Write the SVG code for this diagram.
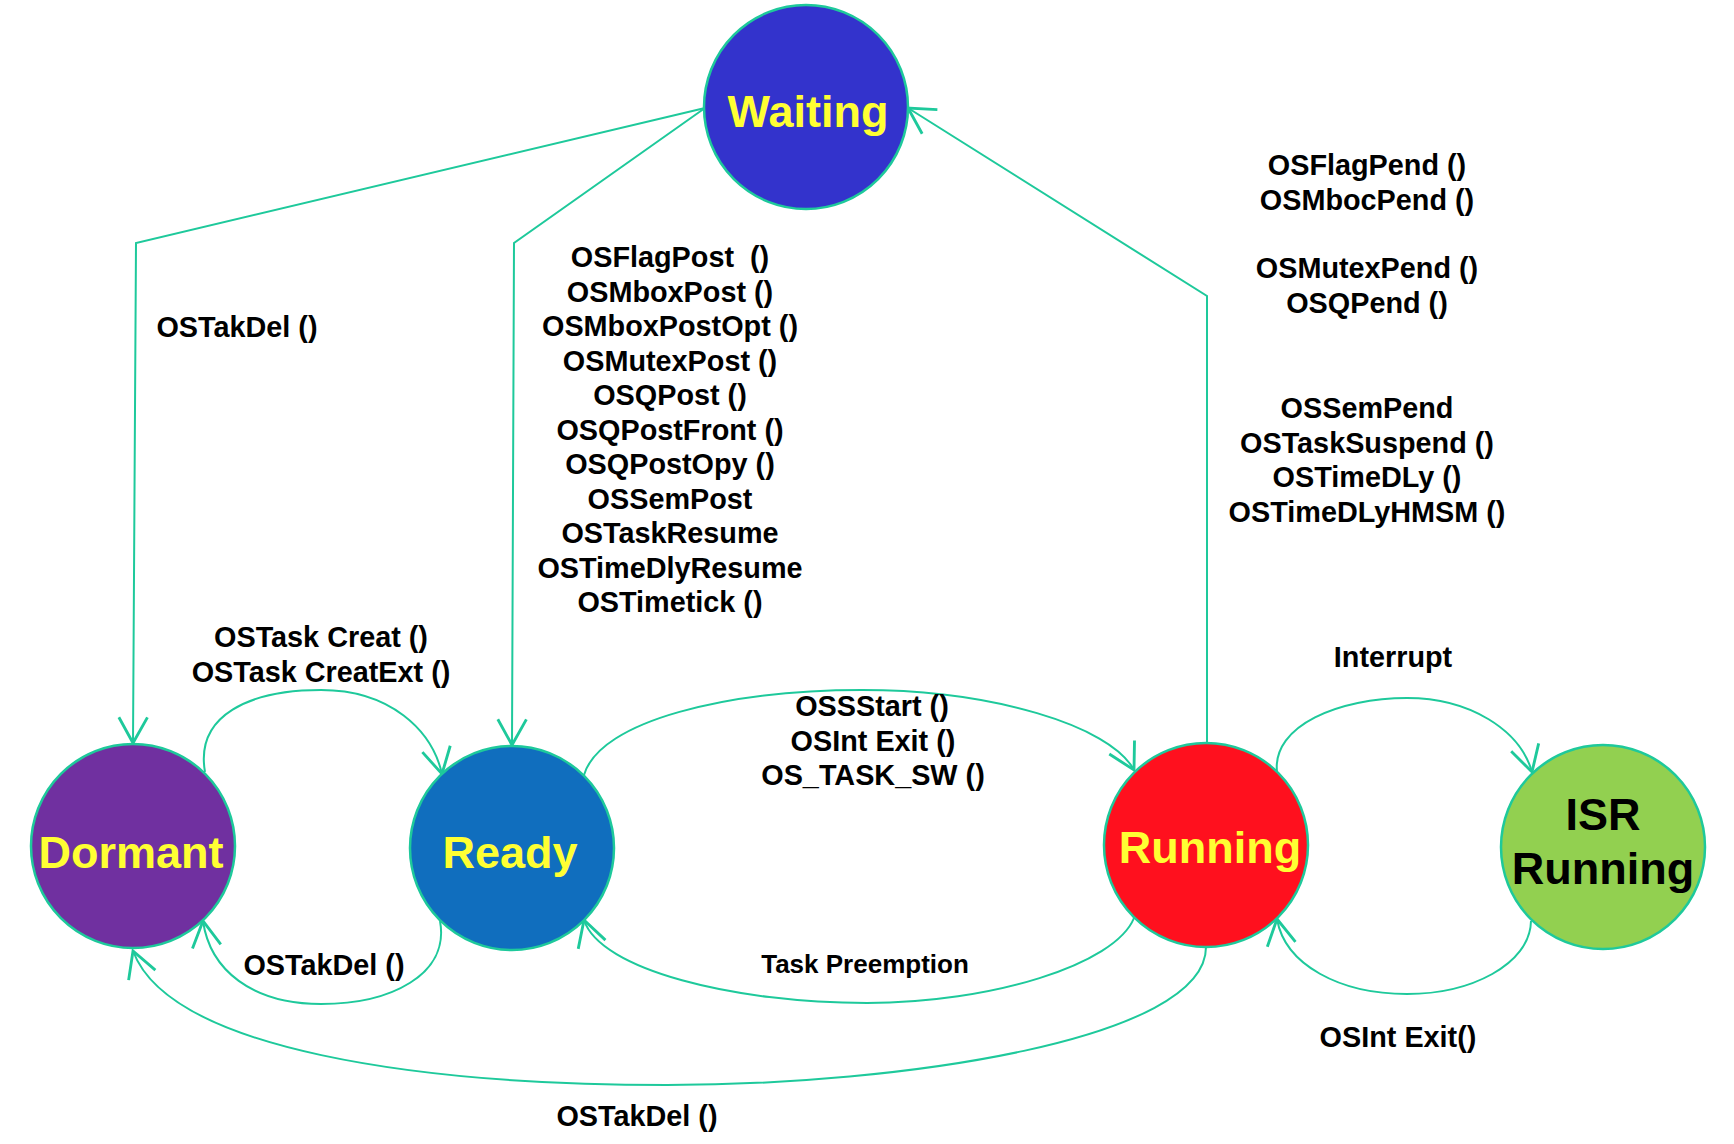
<svg xmlns="http://www.w3.org/2000/svg" width="1734" height="1144" viewBox="0 0 1734 1144">
<style>
.node{stroke:#1ec99b;stroke-width:2.5}
.big{font-family:"Liberation Sans",Arial,sans-serif;font-weight:bold;font-size:45px;text-anchor:middle}
.yel{fill:#ffff33}
.blk{fill:#000000}
.lbl{font-family:"Liberation Sans",Arial,sans-serif;font-weight:bold;font-size:28.8px;text-anchor:middle;fill:#000000}
.conn{fill:none;stroke:#1ec99b;stroke-width:2}
</style>
<defs>
<marker id="arr" markerUnits="userSpaceOnUse" markerWidth="40" markerHeight="40" viewBox="-22 -14 26 28" refX="0" refY="0" orient="auto" overflow="visible">
<path d="M-18,-10 L0,0 L-18,10" fill="none" stroke="#1ec99b" stroke-width="2"/>
</marker>
</defs>
<rect width="1734" height="1144" fill="#ffffff"/>

<g id="connectors" class="conn">
<path id="waiting-dormant" d="M705,108 L136,243 L133,743" marker-end="url(#arr)"/>
<path id="waiting-ready" d="M705,108 L514,243 L512,745" marker-end="url(#arr)"/>
<path id="running-waiting" d="M1207,743 L1207,296 L908,108" marker-end="url(#arr)"/>
<path id="dormant-ready" d="M205,772 C195,715 250,690 321,690 C390,690 432,730 442,774" marker-end="url(#arr)"/>
<path id="ready-dormant" d="M440,921 C450,975 390,1004 321,1004 C252,1004 210,970 203,921" marker-end="url(#arr)"/>
<path id="ready-running" d="M584,775 C600,720 730,690 862,690 C990,690 1110,725 1134,770" marker-end="url(#arr)"/>
<path id="running-ready" d="M1134,918 C1115,965 990,1003 867,1003 C735,1003 600,970 584,920" marker-end="url(#arr)"/>
<path id="running-dormant" d="M1206,947 C1206,1040 900,1085 667,1085 C420,1085 170,1050 133,951" marker-end="url(#arr)"/>
<path id="running-isr" d="M1277,772 C1272,725 1340,698 1407,698 C1470,698 1520,730 1532,772" marker-end="url(#arr)"/>
<path id="isr-running" d="M1531,921 C1530,965 1470,994 1407,994 C1340,994 1285,965 1277,919" marker-end="url(#arr)"/>
</g>

<g id="waiting">
<circle class="node" cx="806" cy="107" r="102" fill="#3333cc"/>
<text class="big yel" x="808" y="127">Waiting</text>
</g>
<g id="dormant">
<circle class="node" cx="133" cy="846" r="102" fill="#7030a0"/>
<text class="big yel" x="131" y="868">Dormant</text>
</g>
<g id="ready">
<circle class="node" cx="512" cy="848" r="102" fill="#106ebe"/>
<text class="big yel" x="510" y="868">Ready</text>
</g>
<g id="running">
<circle class="node" cx="1206" cy="845" r="102" fill="#ff101e"/>
<text class="big yel" x="1210" y="863">Running</text>
</g>
<g id="isr-running-node">
<circle class="node" cx="1603" cy="847" r="102" fill="#92d050"/>
<text class="big blk" x="1603" y="830">ISR</text>
<text class="big blk" x="1603" y="884">Running</text>
</g>

<g id="labels">
<text class="lbl" x="237" y="337">OSTakDel ()</text>
<text class="lbl" x="670" y="267">OSFlagPost&#160; ()</text>
<text class="lbl" x="670" y="301.5">OSMboxPost ()</text>
<text class="lbl" x="670" y="336">OSMboxPostOpt ()</text>
<text class="lbl" x="670" y="370.5">OSMutexPost ()</text>
<text class="lbl" x="670" y="405">OSQPost ()</text>
<text class="lbl" x="670" y="439.5">OSQPostFront ()</text>
<text class="lbl" x="670" y="474">OSQPostOpy ()</text>
<text class="lbl" x="670" y="508.5">OSSemPost</text>
<text class="lbl" x="670" y="543">OSTaskResume</text>
<text class="lbl" x="670" y="577.5">OSTimeDlyResume</text>
<text class="lbl" x="670" y="612">OSTimetick ()</text>

<text class="lbl" x="1367" y="175">OSFlagPend ()</text>
<text class="lbl" x="1367" y="210">OSMbocPend ()</text>
<text class="lbl" x="1367" y="278">OSMutexPend ()</text>
<text class="lbl" x="1367" y="313">OSQPend ()</text>
<text class="lbl" x="1367" y="418">OSSemPend</text>
<text class="lbl" x="1367" y="452.5">OSTaskSuspend ()</text>
<text class="lbl" x="1367" y="487">OSTimeDLy ()</text>
<text class="lbl" x="1367" y="521.5">OSTimeDLyHMSM ()</text>

<text class="lbl" x="321" y="647">OSTask Creat ()</text>
<text class="lbl" x="321" y="682">OSTask CreatExt ()</text>
<text class="lbl" x="324" y="975">OSTakDel ()</text>

<text class="lbl" x="872" y="716">OSSStart ()</text>
<text class="lbl" x="873" y="751">OSInt Exit ()</text>
<text class="lbl" x="873" y="785">OS_TASK_SW ()</text>
<text class="lbl" x="865" y="973" style="font-size:26px">Task Preemption</text>

<text class="lbl" x="1393" y="667">Interrupt</text>
<text class="lbl" x="1398" y="1047">OSInt Exit()</text>
<text class="lbl" x="637" y="1126">OSTakDel ()</text>
</g>
</svg>
